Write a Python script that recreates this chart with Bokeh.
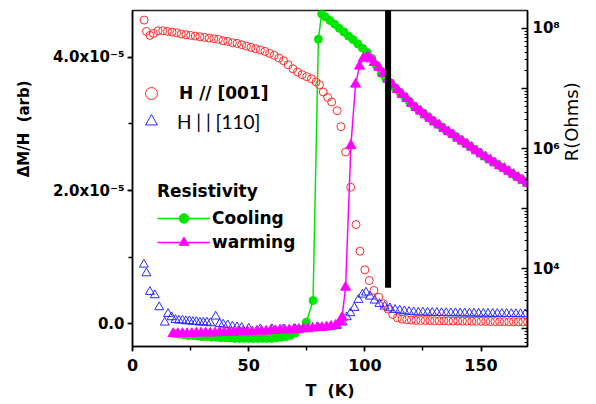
import numpy as np
from bokeh.plotting import figure
from bokeh.models import (Range1d, LogAxis, LogScale, FixedTicker, SingleIntervalTicker,
                          Legend, LegendItem)
from bokeh.embed import file_html
from bokeh.resources import INLINE

# Delta M / H with H // [001]  (values in units of 1e-5 arb)
t_001 = [5.0, 6.0, 7.5, 9.0, 11.0, 13.0, 15.0, 17.0, 19.0, 21.0, 23.0, 25.0, 27.0, 29.0,
         31.0, 33.0, 35.0, 37.0, 39.0, 41.0, 43.0, 45.0, 47.0, 49.0, 51.0, 53.0, 55.0, 57.0,
         59.0, 61.0, 63.0, 65.0, 67.0, 69.0, 71.0, 73.0, 75.0, 77.0, 79.0, 80.5, 82.1, 84.0,
         85.7, 88.1, 89.7, 91.7, 93.9, 96.2, 97.9, 100.0, 101.9, 103.9, 106.0, 108.0, 110.0,
         112.0, 114.0, 116.0, 118.0, 120.0, 122.0, 124.0, 126.0, 128.0, 130.0, 132.0, 134.0,
         136.0, 138.0, 140.0, 142.0, 144.0, 146.0, 148.0, 150.0, 152.0, 154.0, 156.0, 158.0,
         160.0, 162.0, 164.0, 166.0, 168.0, 170.0]
dmh_001 = [4.56, 4.39, 4.33, 4.36, 4.40, 4.40, 4.39, 4.38, 4.37, 4.35, 4.34, 4.33, 4.32, 4.31,
           4.30, 4.29, 4.28, 4.27, 4.25, 4.24, 4.22, 4.21, 4.19, 4.17, 4.15, 4.13, 4.11, 4.09,
           4.06, 4.03, 3.99, 3.95, 3.89, 3.83, 3.78, 3.74, 3.71, 3.68, 3.63, 3.59, 3.48, 3.40,
           3.33, 3.20, 2.96, 2.58, 2.05, 1.49, 1.09, 0.81, 0.65, 0.50, 0.40, 0.30, 0.22,
           0.14, 0.09, 0.07, 0.06, 0.055, 0.05, 0.05, 0.05, 0.048, 0.046, 0.045, 0.044,
           0.043, 0.042, 0.041, 0.040, 0.039, 0.038, 0.037, 0.036, 0.035, 0.034, 0.033, 0.032,
           0.031, 0.030, 0.030, 0.029, 0.028, 0.027]

# Delta M / H with H || [110]
t_110 = [4.9, 6.0, 7.5, 9.6, 11.5, 13.9, 15.3, 16.8, 18.5, 20.0, 21.5, 23.0, 24.5, 26.0,
         27.5, 29.0, 30.5, 32.0, 33.5, 35.8, 37.5, 39.0, 41.0, 43.0, 45.0, 47.0, 50.0, 55.0,
         60.0, 65.0, 70.0, 75.0, 80.0, 85.0, 88.0, 90.5, 92.2, 93.8, 95.5, 97.2, 99.0, 100.5,
         102.2, 104.2, 106.3, 108.5, 110.8, 113.0, 115.0, 117.0, 119.0, 121.0, 123.0, 125.0,
         127.0, 129.0, 131.0, 133.0, 135.0, 137.0, 139.0, 141.0, 143.0, 145.0, 147.0, 149.0,
         151.0, 153.0, 155.0, 157.0, 159.0, 161.0, 163.0, 165.0, 167.0, 169.0]
dmh_110 = [0.89, 0.76, 0.48, 0.43, 0.25, 0.02, 0.15, 0.10, 0.06, 0.05, 0.05, 0.04, 0.04, 0.03,
           0.03, 0.02, 0.02, 0.02, 0.01, 0.11, 0.00, -0.01, -0.02, -0.04, -0.05, -0.06, -0.07,
           -0.08, -0.08, -0.08, -0.08, -0.07, -0.06, -0.05, -0.03, 0.02, 0.10, 0.16, 0.24,
           0.36, 0.44, 0.47, 0.41, 0.35, 0.30, 0.26, 0.235, 0.21, 0.20, 0.19, 0.18, 0.175,
           0.17, 0.17, 0.168, 0.166, 0.165, 0.163, 0.162, 0.160, 0.160, 0.158, 0.157, 0.156,
           0.155, 0.154, 0.153, 0.152, 0.151, 0.150, 0.150, 0.149, 0.148, 0.147, 0.146, 0.145]

# Resistivity on cooling, log10(R / Ohm)
t_cool = [18.0, 20.0, 22.0, 24.0, 26.0, 28.0, 30.0, 32.0, 34.0, 36.0, 38.0, 40.0, 42.0, 44.0,
          46.0, 48.0, 50.0, 52.0, 54.0, 56.0, 58.0, 60.0, 62.0, 64.0, 66.0, 68.0, 70.0, 72.0,
          74.8, 77.7, 80.0, 81.4, 83.0, 85.0, 87.0, 89.0, 91.0, 93.0, 95.0, 97.0, 99.0, 101.0,
          103.0, 105.0, 107.0, 109.0, 111.0, 113.0, 115.0, 117.0, 119.0, 121.0, 123.0, 125.0,
          127.0, 129.0, 131.0, 133.0, 135.0, 137.0, 139.0, 141.0, 143.0, 145.0, 147.0, 149.0,
          151.0, 153.0, 155.0, 157.0, 159.0, 161.0, 163.0, 165.0, 167.0, 169.0]
logr_cool = [2.92, 2.91, 2.90, 2.89, 2.89, 2.88, 2.87, 2.87, 2.86, 2.86, 2.85, 2.85, 2.85, 2.84,
             2.84, 2.84, 2.84, 2.84, 2.84, 2.84, 2.84, 2.84, 2.85, 2.86, 2.87, 2.89, 2.93, 2.99,
             3.11, 3.47, 7.82, 8.24, 8.19, 8.13, 8.07, 8.00, 7.94, 7.87, 7.81, 7.74, 7.67, 7.60,
             7.50, 7.38, 7.25, 7.16, 7.09, 7.01, 6.94, 6.87, 6.79, 6.71, 6.65, 6.59,
             6.53, 6.47, 6.41, 6.36, 6.30, 6.25, 6.20, 6.15, 6.10, 6.04, 5.99, 5.94,
             5.88, 5.83, 5.78, 5.74, 5.69, 5.64, 5.59, 5.54, 5.50, 5.45]

# Resistivity on warming, log10(R / Ohm)
t_warm = [17.5, 19.5, 21.5, 23.5, 25.5, 27.5, 29.5, 31.5, 33.5, 35.5, 37.5, 39.5, 41.5, 43.5,
          45.5, 47.5, 49.5, 51.5, 53.5, 55.5, 57.5, 59.5, 61.5, 63.5, 65.5, 67.5, 69.5, 71.5,
          73.5, 75.5, 77.5, 79.5, 81.5, 83.5, 85.5, 87.5, 89.5, 90.2, 91.7, 94.0, 96.0, 97.7,
          99.3, 101.2, 102.5, 104.0, 106.0, 108.0, 110.0, 112.0, 114.0, 116.0, 118.0, 120.0,
          122.0, 124.0, 126.0, 128.0, 130.0, 132.0, 134.0, 136.0, 138.0, 140.0, 142.0, 144.0,
          146.0, 148.0, 150.0, 152.0, 154.0, 156.0, 158.0, 160.0, 162.0, 164.0, 166.0, 168.0,
          170.0]
logr_warm = [2.92, 2.92, 2.92, 2.92, 2.92, 2.93, 2.93, 2.93, 2.93, 2.93, 2.94, 2.94, 2.94, 2.94,
             2.95, 2.95, 2.95, 2.95, 2.96, 2.96, 2.96, 2.97, 2.97, 2.98, 2.98, 2.98, 2.99, 2.99,
             3.00, 3.00, 3.01, 3.02, 3.02, 3.03, 3.04, 3.06, 3.12, 3.19, 3.69, 6.05, 7.07, 7.37,
             7.50, 7.53, 7.49, 7.43, 7.35, 7.25, 7.15, 7.06, 6.98, 6.90, 6.83, 6.75,
             6.68, 6.62, 6.56, 6.50, 6.44, 6.39, 6.33, 6.28, 6.23, 6.17, 6.12, 6.07,
             6.02, 5.96, 5.91, 5.86, 5.81, 5.76, 5.71, 5.67, 5.62, 5.57, 5.52, 5.47,
             5.42]

# Vertical marker bar at the transition temperature
marker_T = 110.0
marker_bottom = 0.54

# Tick labels
left_tick_labels = {0.0: "0.0", 2.0: "2.0x10\u207b\u2075", 4.0: "4.0x10\u207b\u2075"}
right_tick_labels = {1e4: "10\u2074", 1e6: "10\u2076", 1e8: "10\u2078"}

FONT = "DejaVu Sans"
RED, BLUE, GREEN, MAGENTA = "#ff2a2a", "#2a2aff", "#00e600", "#ff00ff"
NB = "\u00a0"

p = figure(width=596, height=404, output_backend="svg", toolbar_location=None,
           x_range=Range1d(0, 170), y_range=Range1d(-0.341, 4.704),
           min_border_left=132, min_border_right=69, min_border_top=10, min_border_bottom=58)
p.extra_y_ranges = {"r": Range1d(10 ** 2.705, 10 ** 8.297)}
p.extra_y_scales = {"r": LogScale()}
p.grid.visible = False
p.outline_line_color = "#222222"
p.outline_line_width = 1.5
p.background_fill_color = "white"
p.border_fill_color = "white"


def style_axis(ax, label_size="15px"):
    ax.axis_line_color = "black"
    ax.axis_line_width = 1.5
    ax.major_tick_line_color = "black"
    ax.minor_tick_line_color = "black"
    ax.major_tick_line_width = 1.5
    ax.major_label_text_font = FONT
    ax.major_label_text_font_style = "bold"
    ax.major_label_text_font_size = label_size
    ax.major_label_text_color = "black"
    ax.axis_label_text_font = FONT
    ax.axis_label_text_font_style = "bold"
    ax.axis_label_text_color = "black"


xa = p.xaxis[0]
style_axis(xa, "16px")
xa.ticker = SingleIntervalTicker(interval=50, num_minor_ticks=2)
xa.minor_tick_line_width = 1.5
xa.major_tick_out, xa.major_tick_in = 5, 0
xa.minor_tick_out, xa.minor_tick_in = 4, 0
xa.major_label_standoff = 7
xa.axis_label = "T" + NB + NB + "(K)"
xa.axis_label_text_font_size = "16px"
xa.axis_label_standoff = 7

ya = p.yaxis[0]
style_axis(ya, "15px")
ya.ticker = SingleIntervalTicker(interval=2, num_minor_ticks=2)
ya.major_label_overrides = left_tick_labels
ya.minor_tick_line_width = 1.5
ya.major_tick_out, ya.major_tick_in = 5, 0
ya.minor_tick_out, ya.minor_tick_in = 4, 0
ya.major_label_standoff = 3
# leading blanks lift the title towards the upper half of the axis
ya.axis_label = NB * 19 + "\u0394M/H" + NB + NB + "(arb)"
ya.axis_label_text_font_size = "15px"
ya.axis_label_standoff = 17

decades = [10.0 ** k for k in range(2, 10)]
minors = [m * 10.0 ** k for k in range(2, 9) for m in range(2, 10)]
ra = LogAxis(y_range_name="r", ticker=FixedTicker(ticks=decades, minor_ticks=minors))
style_axis(ra, "15px")
ra.major_label_overrides = {d: right_tick_labels.get(d, "") for d in decades}
ra.minor_tick_line_width = 1
ra.major_tick_in, ra.major_tick_out = 6, 0
ra.minor_tick_in, ra.minor_tick_out = 3, 0
ra.major_label_standoff = 5
ra.axis_label = NB * 3 + "R(Ohms)"
ra.axis_label_orientation = np.pi / 2
ra.axis_label_text_font_style = "normal"
ra.axis_label_text_font_size = "18px"
ra.axis_label_standoff = 9
p.add_layout(ra, "right")

# magnetisation data (left axis)
r_001 = p.scatter(t_001, dmh_001, marker="circle", size=8, fill_color=None,
                  line_color=RED, line_width=1)
r_110 = p.scatter(t_110, dmh_110, marker="triangle", size=9, fill_color=None,
                  line_color=BLUE, line_width=1)

# resistivity data (right axis)
R_cool = np.power(10.0, logr_cool)
R_warm = np.power(10.0, logr_warm)
g_line = p.line(t_cool, R_cool, y_range_name="r", line_color=GREEN, line_width=1.5)
g_pts = p.scatter(t_cool, R_cool, y_range_name="r", marker="circle", size=8,
                  fill_color=GREEN, line_color=GREEN)
m_line = p.line(t_warm, R_warm, y_range_name="r", line_color=MAGENTA, line_width=1.5)
m_pts = p.scatter(t_warm, R_warm, y_range_name="r", marker="triangle", size=10,
                  fill_color=MAGENTA, line_color=MAGENTA)

p.segment(x0=[marker_T], y0=[marker_bottom], x1=[marker_T], y1=[p.y_range.end + 0.05],
          line_width=6, line_color="black")


def style_legend(leg, font, font_style, size):
    leg.border_line_color = None
    leg.background_fill_alpha = 0
    leg.padding = 0
    leg.margin = 0
    leg.spacing = 0
    leg.label_text_font = font
    leg.label_text_font_style = font_style
    leg.label_text_font_size = size
    leg.label_text_color = "black"


leg_a = Legend(items=[LegendItem(label="H // [001]", renderers=[r_001])], location=(4, 238),
               glyph_width=30, glyph_height=30, label_standoff=13)
style_legend(leg_a, FONT, "bold", "17px")
leg_b = Legend(items=[LegendItem(label="H | | [110]", renderers=[r_110])], location=(4, 210),
               glyph_width=30, glyph_height=30, label_standoff=11)
style_legend(leg_b, "Lato", "normal", "19px")
leg_c = Legend(items=[LegendItem(label="Cooling", renderers=[g_line, g_pts]),
                      LegendItem(label="warming", renderers=[m_line, m_pts])],
               location=(25, 92), glyph_width=53, glyph_height=24, label_standoff=2,
               label_height=20, title="Resistivity")
style_legend(leg_c, FONT, "bold", "17px")
leg_c.title_text_font = FONT
leg_c.title_text_font_style = "bold"
leg_c.title_text_font_size = "17px"
leg_c.title_text_color = "black"
leg_c.title_standoff = 5
for leg in (leg_a, leg_b, leg_c):
    p.add_layout(leg)

open("out.html", "w").write(file_html(p, INLINE))
